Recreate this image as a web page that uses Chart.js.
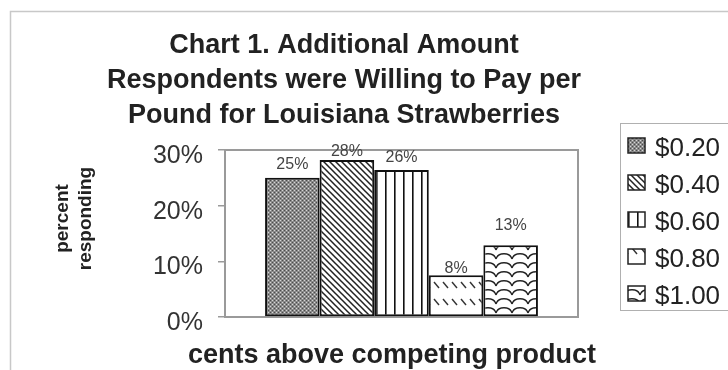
<!DOCTYPE html>
<html>
<head>
<meta charset="utf-8">
<script src="https://cdn.jsdelivr.net/npm/chart.js@4"></script>
<style>
html,body{margin:0;padding:0;background:#fff;}
#wrap{width:728px;height:370px;position:relative;}
</style>
</head>
<body>
<div id="wrap"><canvas id="c" width="728" height="370"></canvas></div>
<script>
// ---- data ----
const titleLines = ['Chart 1. Additional Amount', 'Respondents were Willing to Pay per', 'Pound for Louisiana Strawberries'];
const categories = [''];
const seriesLabels = ['$0.20', '$0.40', '$0.60', '$0.80', '$1.00'];
const seriesValues = [25.0, 28.2, 26.4, 7.5, 12.9];
const yTicks = [0, 10, 20, 30];
const yAxisTitle = ['percent', 'responding'];
const xAxisTitle = 'cents above competing product';

// ---- styling ----
const FONT = "'Liberation Sans', Arial, Helvetica, sans-serif";
const labelOffsets = [13, 8, 12, 7, 20];

function makePattern(kind) {
  const c = document.createElement('canvas');
  let g;
  if (kind === 0) {
    c.width = 4; c.height = 4; g = c.getContext('2d');
    g.fillStyle = '#8a8a8a'; g.fillRect(0, 0, 4, 4);
    g.fillStyle = '#d6d6d6'; g.fillRect(0, 0, 1, 1); g.fillRect(2, 2, 1, 1);
    g.fillStyle = '#4c4c4c'; g.fillRect(2, 0, 1, 1); g.fillRect(0, 2, 1, 1);
  } else if (kind === 1) {
    c.width = 6; c.height = 6; g = c.getContext('2d');
    g.fillStyle = '#fff'; g.fillRect(0, 0, 6, 6);
    g.strokeStyle = '#222'; g.lineWidth = 1.5;
    g.beginPath();
    g.moveTo(-1, -1); g.lineTo(7, 7);
    g.moveTo(5, -1); g.lineTo(7, 1);
    g.moveTo(-1, 5); g.lineTo(1, 7);
    g.stroke();
  } else if (kind === 2) {
    c.width = 9; c.height = 9; g = c.getContext('2d');
    g.fillStyle = '#fff'; g.fillRect(0, 0, 9, 9);
    g.fillStyle = '#111'; g.fillRect(7, 0, 1.6, 9);
  } else if (kind === 3) {
    c.width = 9; c.height = 17; g = c.getContext('2d');
    g.fillStyle = '#fff'; g.fillRect(0, 0, 9, 17);
    g.strokeStyle = '#333'; g.lineWidth = 1.4;
    g.beginPath(); g.moveTo(2, 10); g.lineTo(7, 16); g.stroke();
  } else {
    c.width = 16; c.height = 9; g = c.getContext('2d');
    g.fillStyle = '#fff'; g.fillRect(0, 0, 16, 9);
    g.strokeStyle = '#222'; g.lineWidth = 1.3;
    g.beginPath(); g.moveTo(0, 7); g.bezierCurveTo(2, 0, 14, 0, 16, 7); g.stroke();
  }
  return document.getElementById('c').getContext('2d').createPattern(c, 'repeat');
}
const patterns = seriesLabels.map((_, i) => makePattern(i));

const decorPlugin = {
  id: 'decor',
  beforeDraw(chart) {
    const ctx = chart.ctx;
    ctx.save();
    ctx.fillStyle = '#fff';
    ctx.fillRect(0, 0, chart.width, chart.height);
    ctx.strokeStyle = '#c8c8c8';
    ctx.lineWidth = 1.5;
    ctx.beginPath();
    ctx.moveTo(10.5, 371); ctx.lineTo(10.5, 11.5); ctx.lineTo(729, 11.5);
    ctx.stroke();
    ctx.restore();
  },
  afterLayout(chart) {
    if (chart.titleBlock) { chart.titleBlock.left = 10; chart.titleBlock.right = 678; }
  },
  beforeDatasetsDraw(chart) {
    const {ctx, chartArea: a} = chart;
    ctx.save();
    ctx.strokeStyle = '#9a9a9a';
    ctx.lineWidth = 2;
    ctx.strokeRect(a.left, a.top, a.right - a.left, a.bottom - a.top);
    ctx.restore();
  },
  afterDraw(chart) {
    const ctx = chart.ctx;
    ctx.save();
    // value labels
    ctx.font = '16px ' + FONT;
    ctx.fillStyle = '#444';
    ctx.textAlign = 'center';
    ctx.textBaseline = 'middle';
    chart.data.datasets.forEach((ds, i) => {
      const el = chart.getDatasetMeta(i).data[0];
      ctx.fillText(Math.round(ds.data[0]) + '%', el.x, el.y - labelOffsets[i]);
    });
    // legend
    ctx.strokeStyle = '#b0b0b0';
    ctx.lineWidth = 1;
    ctx.strokeRect(620.5, 123.5, 130, 187);
    ctx.font = '26px ' + FONT;
    ctx.textAlign = 'left';
    seriesLabels.forEach((lab, i) => {
      const cy = 149 + i * 37;
      ctx.fillStyle = patterns[i];
      ctx.fillRect(628, cy - 11, 17, 15);
      ctx.strokeStyle = '#222';
      ctx.lineWidth = 1.5;
      ctx.strokeRect(628, cy - 11, 17, 15);
      ctx.fillStyle = '#222';
      ctx.fillText(lab, 655, cy);
    });
    // y axis title
    ctx.font = 'bold 19px ' + FONT;
    ctx.fillStyle = '#222';
    ctx.textAlign = 'center';
    ctx.textBaseline = 'middle';
    yAxisTitle.forEach((t, i) => {
      ctx.save();
      ctx.translate(62.5 + i * 23, 218.5);
      ctx.rotate(-Math.PI / 2);
      ctx.fillText(t, 0, 0);
      ctx.restore();
    });
    // x axis title
    ctx.font = 'bold 27px ' + FONT;
    ctx.textBaseline = 'alphabetic';
    ctx.fillText(xAxisTitle, 392, 363);
    ctx.restore();
  }
};

Chart.defaults.font.family = FONT;

new Chart(document.getElementById('c'), {
  type: 'bar',
  data: {
    labels: categories,
    datasets: seriesLabels.map((l, i) => ({
      label: l,
      data: [seriesValues[i]],
      backgroundColor: patterns[i],
      borderColor: '#111',
      borderWidth: 2,
      borderSkipped: false,
      categoryPercentage: 0.773,
      barPercentage: 1.0
    }))
  },
  options: {
    responsive: false,
    devicePixelRatio: 1,
    animation: false,
    layout: {padding: {left: 0, right: 150, top: 0, bottom: 53}},
    plugins: {
      legend: {display: false},
      tooltip: {enabled: false},
      title: {
        display: true,
        text: titleLines,
        color: '#222',
        font: {size: 27, weight: 'bold', lineHeight: 35 / 27},
        padding: {top: 28.3, bottom: 16.7}
      }
    },
    scales: {
      x: {display: false},
      y: {
        min: 0, max: 30,
        afterBuildTicks: s => { s.ticks = yTicks.map(v => ({value: v})); },
        afterFit: s => { s.width = 225; },
        ticks: {
          callback: v => v + '%',
          font: {size: 25},
          color: '#333',
          padding: 15,
          labelOffset: 6
        },
        grid: {drawOnChartArea: false, drawTicks: true, tickLength: 7, color: '#9a9a9a', lineWidth: 1.5},
        border: {display: false}
      }
    }
  },
  plugins: [decorPlugin]
});
</script>
</body>
</html>
